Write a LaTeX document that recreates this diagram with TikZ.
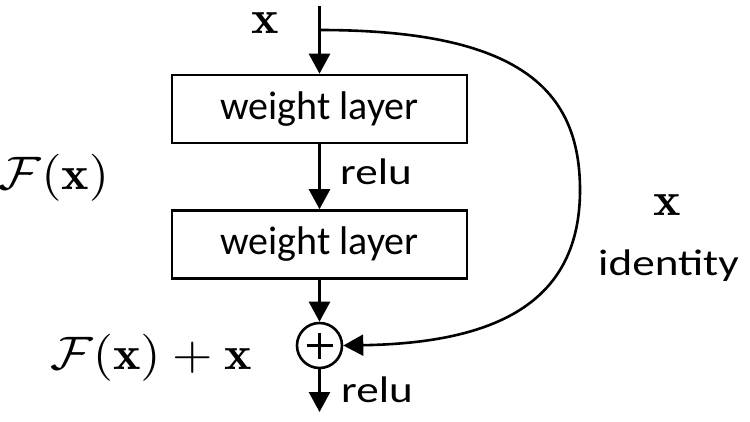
\documentclass[tikz,border=0pt]{standalone}
\usepackage{graphicx}
\usepackage{fontspec}
\newfontfamily\calib{Carlito}
\usetikzlibrary{arrows.meta}
\newcommand\widetxt[1]{\scalebox{1.22}[1]{#1}}
\newcommand\widemath[1]{\scalebox{5.2}[4.7]{#1}}
\begin{document}
\begin{tikzpicture}[x=1pt,y=-1pt,
  lw/.style={line width=2.6pt},
  box/.style={draw,lw,minimum width=295pt,minimum height=68pt,inner sep=0pt,font=\calib\fontsize{40}{46}\selectfont},
  arr/.style={lw,-{Triangle[length=20pt,width=21pt]}},
  lbl/.style={font=\calib\fontsize{37}{43}\selectfont,inner sep=0pt},
  mth/.style={inner sep=0pt}]
\useasboundingbox (0,0) rectangle (750,421);
\node[box] (w1) at (319.5,109) {weight layer};
\node[box] (w2) at (319.5,244.5) {weight layer};
\node[draw,lw,circle,minimum size=45pt,inner sep=0pt] (add) at (319.5,345.5) {};
\draw[lw] ([xshift=-13pt]add.center) -- ([xshift=13pt]add.center);
\draw[lw] ([yshift=-13pt]add.center) -- ([yshift=13pt]add.center);
\coordinate (in) at (319.5,6);
\coordinate (split) at (319.5,30);
\coordinate (out) at (319.5,412);
\draw[arr] (in) -- (w1.north);
\draw[arr] (w1) -- (w2);
\draw[arr] (w2) -- (add);
\draw[arr] (add) -- (out);
\draw[arr] (split) .. controls (520,30) and (580,90) .. (580,190) .. controls (580,300) and (500,343) .. (add.east);
\node[mth] (xin) at (265,23) {\widemath{$\mathbf{x}$}};
\node[lbl,anchor=base west] (relu1) at (340,184) {\widetxt{relu}};
\node[lbl,anchor=base west] (relu2) at (341,402) {\widetxt{relu}};
\node[mth] (fx) at (54,178) {\widemath{$\mathcal{F}(\mathbf{x})$}};
\node[mth] (xid) at (667,205.5) {\widemath{$\mathbf{x}$}};
\node[lbl,anchor=base] (ident) at (668.5,275) {\widetxt{identity}};
\node[mth] (fxx) at (151,358) {\widemath{$\mathcal{F}(\mathbf{x})+\mathbf{x}$}};
\end{tikzpicture}
\end{document}
